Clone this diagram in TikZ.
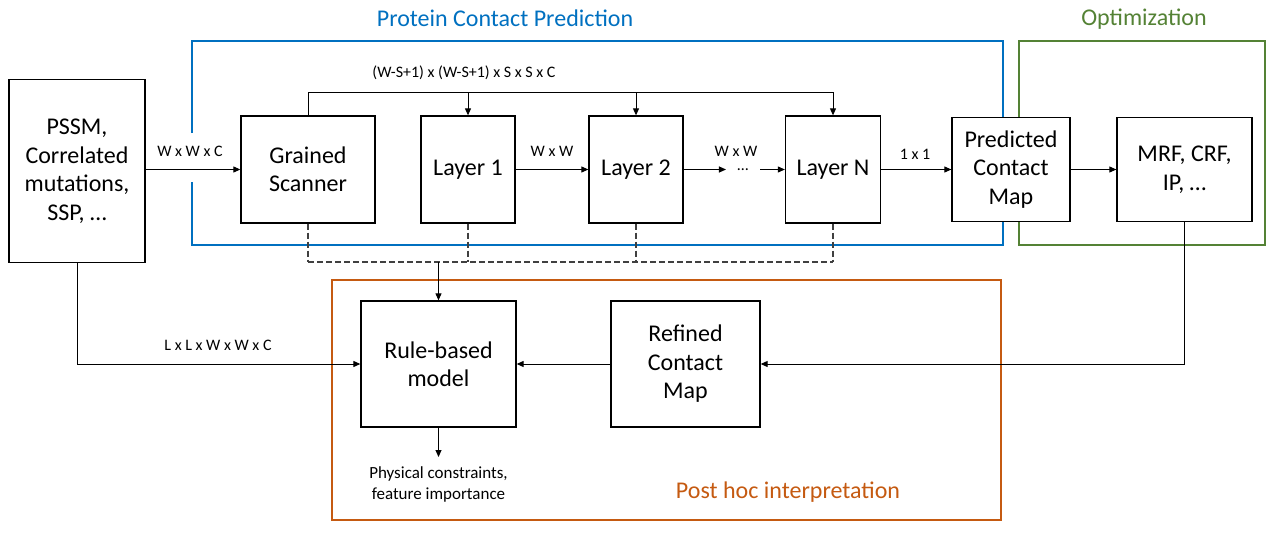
\documentclass[tikz,border=0pt]{standalone}
\usepackage{fontspec}
\setmainfont{Carlito}
\usetikzlibrary{arrows.meta}
\definecolor{pcpblue}{RGB}{0,112,192}
\definecolor{optgreen}{RGB}{84,130,53}
\definecolor{phorange}{RGB}{197,90,17}
\begin{document}
\begin{tikzpicture}
  [x=1pt,y=-1pt,>={Triangle[length=7pt,width=6pt]},line width=1pt,
   every node/.style={font=\fontsize{24}{28.5}\selectfont}]
  \tikzstyle{box} = [draw,line width=1.3pt,fill=white,align=center,inner sep=0pt,minimum height=107pt]
  \tikzstyle{lbl} = [font=\fontsize{16}{19}\selectfont]
  \tikzstyle{grouptitle} = [font=\fontsize{24}{28}\selectfont]
  \tikzstyle{frame} = [line width=1.2pt]
  \tikzstyle{tap} = [line width=1.2pt,dash pattern=on 6pt off 3pt,black!75]
  \useasboundingbox (0,0) rectangle (1276,543);
  % group frames
  \draw[frame,pcpblue] (192,133) -- (192,41) -- (1003,41) -- (1003,245) -- (192,245) -- (192,182);
  \draw[frame,optgreen] (1019,41) rectangle (1265,245);
  \draw[frame,phorange] (332,280) rectangle (1001,520);
  \node[grouptitle,text=pcpblue] (tpcp) at (505,18) {Protein Contact Prediction};
  \node[grouptitle,text=optgreen] (topt) at (1144,19) {Optimization};
  \node[grouptitle,text=phorange] (tph) at (788,492) {Post hoc interpretation};
  % boxes
  \node[box,minimum width=136pt,minimum height=183pt] (in) at (77,171) {PSSM,\\Correlated\\mutations,\\SSP, …};
  \node[box,minimum width=134pt] (gs) at (308,169.5) {Grained\\Scanner};
  \node[box,minimum width=94pt] (l1) at (468,169.5) {Layer 1};
  \node[box,minimum width=94pt] (l2) at (636,169.5) {Layer 2};
  \node[box,minimum width=95pt] (ln) at (833,169.5) {Layer N};
  \node[box,minimum width=118pt,minimum height=104pt] (pcm) at (1011,169.5) {Predicted\\Contact\\Map};
  \node[box,minimum width=135pt,minimum height=104pt] (mrf) at (1184.5,169.5) {MRF, CRF,\\IP, …};
  \node[box,minimum width=155pt,minimum height=126pt] (rb) at (438.5,364) {Rule-based\\model};
  \node[box,minimum width=149pt,minimum height=126pt] (rcm) at (685.5,364) {Refined\\Contact\\Map};
  \node[lbl,inner xsep=11pt] (dots) at (743,169.5) {…};
  \node[lbl,align=center,anchor=north,inner xsep=0pt,inner ysep=9pt,font=\fontsize{17}{21}\selectfont] (phys) at (438.5,457) {Physical constraints,\\feature importance};
  % main chain
  \draw[->] (in.east |- gs) -- (gs);
  \draw[->] (l1) -- (l2);
  \draw[->] (l2) -- (dots);
  \draw[->] (dots) -- (ln);
  \draw[->] (ln) -- (pcm);
  \draw[->] (pcm) -- (mrf);
  \node[lbl] (lwwc) at (190,151) {W x W x C};
  \node[lbl] (lww1) at (552,151) {W x W};
  \node[lbl] (lww2) at (736,151) {W x W};
  \node[lbl] (l11) at (915,154) {1 x 1};
  % scanner output bus
  \coordinate (bus) at (308,92);
  \draw (gs.north) -- (bus) -- (bus -| ln.north);
  \foreach \n in {l1,l2,ln}
    \draw[->] (bus -| \n.north) -- (\n.north);
  \node[lbl] (lbus) at (464,73) {(W-S+1) x (W-S+1) x S x S x C};
  % dashed taps to the rule-based model
  \coordinate (dbus) at (308,262);
  \foreach \n in {gs,l1,l2,ln}
    \draw[tap] (\n.south) -- (dbus -| \n.south);
  \draw[tap] (dbus) -- (dbus -| ln.south);
  \draw[->] (dbus -| rb.north) -- (rb.north);
  % post hoc part
  \draw[->] (in.south) |- (rb.west);
  \node[lbl] (llwwc) at (218,345) {L x L x W x W x C};
  \draw[->] (mrf.south) |- (rcm.east);
  \draw[->] (rcm) -- (rb);
  \draw[->] (rb.south) -- (phys.north);
\end{tikzpicture}
\end{document}
